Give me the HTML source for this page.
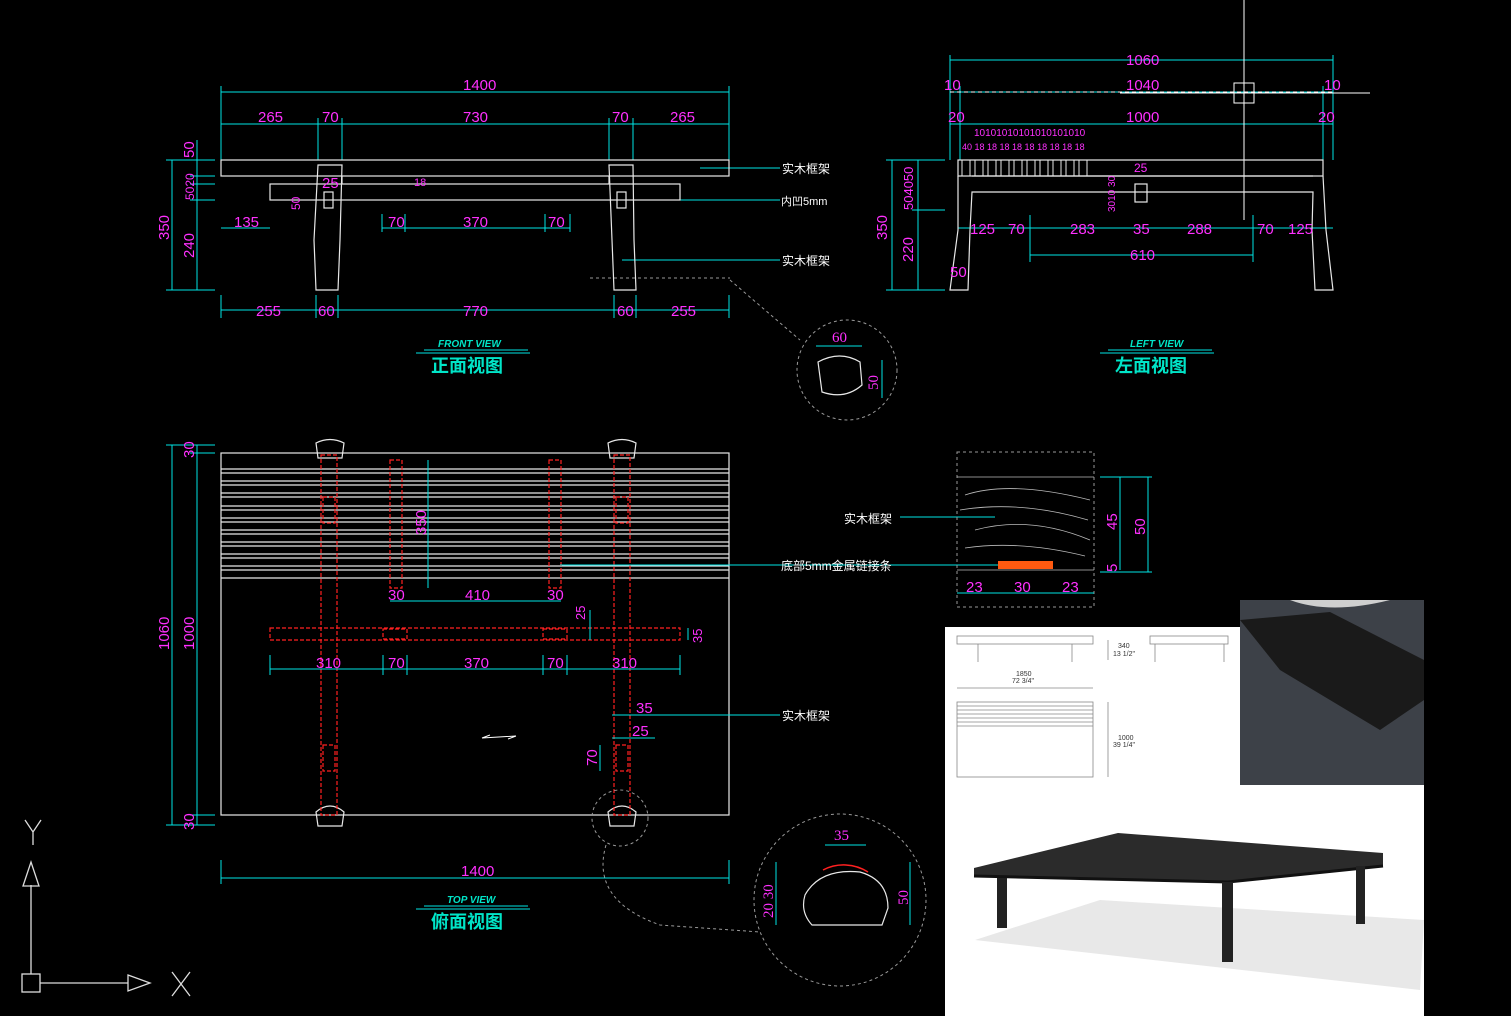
<!DOCTYPE html>
<html><head><meta charset="utf-8"><style>
html,body{margin:0;padding:0;background:#000;}
svg{display:block;}
text{font-family:"Liberation Sans","Noto Sans CJK SC",sans-serif;}
.c{stroke:#00e5e5;stroke-width:1;fill:none}
.w{stroke:#e8e8e8;stroke-width:1.2;fill:none}
.r{stroke:#ff2020;stroke-width:1.2;fill:none;stroke-dasharray:4 2}
.m{fill:#ff30ff;font-size:15px;font-family:"Liberation Serif",serif}
.l{fill:#fff;font-size:12px}
.t{fill:#00e5c8;font-size:18px;font-weight:bold}
.ts{fill:#00e5c8;font-size:10px;font-style:italic;font-weight:bold}
</style></head><body>
<svg width="1511" height="1016" viewBox="0 0 1511 1016" xmlns="http://www.w3.org/2000/svg">
<rect width="1511" height="1016" fill="#000"/>
<!-- ===== FRONT VIEW ===== -->
<g class="c">
<line x1="221" y1="92" x2="729" y2="92"/><line x1="221" y1="124" x2="729" y2="124"/>
<line x1="221" y1="86" x2="221" y2="160"/><line x1="729" y1="86" x2="729" y2="160"/>
<line x1="318" y1="118" x2="318" y2="160"/><line x1="342" y1="118" x2="342" y2="160"/>
<line x1="609" y1="118" x2="609" y2="160"/><line x1="633" y1="118" x2="633" y2="160"/>
<line x1="221" y1="310" x2="729" y2="310"/>
<line x1="221" y1="295" x2="221" y2="318"/><line x1="729" y1="295" x2="729" y2="318"/>
<line x1="316" y1="295" x2="316" y2="318"/><line x1="338" y1="295" x2="338" y2="318"/>
<line x1="614" y1="295" x2="614" y2="318"/><line x1="636" y1="295" x2="636" y2="318"/>
<line x1="221" y1="228" x2="270" y2="228"/><line x1="382" y1="228" x2="570" y2="228"/>
<line x1="382" y1="214" x2="382" y2="232"/><line x1="405" y1="214" x2="405" y2="232"/><line x1="545" y1="214" x2="545" y2="232"/><line x1="570" y1="214" x2="570" y2="232"/>
<line x1="172" y1="160" x2="172" y2="290"/><line x1="197" y1="140" x2="197" y2="290"/>
<line x1="166" y1="160" x2="215" y2="160"/><line x1="166" y1="290" x2="215" y2="290"/>
<line x1="190" y1="176" x2="215" y2="176"/><line x1="190" y1="184" x2="215" y2="184"/><line x1="190" y1="200" x2="215" y2="200"/>
<line x1="700" y1="168" x2="780" y2="168"/><line x1="622" y1="200" x2="780" y2="200"/><line x1="622" y1="260" x2="780" y2="260"/>
</g>
<g class="w">
<rect x="221" y="160" width="508" height="16"/>
<rect x="270" y="184" width="410" height="16"/>
<path d="M318 165 L342 165 L340 240 L338 290 L316 290 L314 240 Z"/>
<path d="M609 165 L633 165 L634 240 L636 290 L614 290 L612 240 Z"/>
<rect x="324" y="192" width="9" height="16"/><rect x="617" y="192" width="9" height="16"/>
<line x1="342" y1="176" x2="342" y2="184"/><line x1="609" y1="176" x2="609" y2="184"/>
</g>
<g class="m">
<text x="463" y="90">1400</text><text x="258" y="122">265</text><text x="322" y="122">70</text><text x="463" y="122">730</text><text x="612" y="122">70</text><text x="670" y="122">265</text>
<text x="234" y="227">135</text><text x="388" y="227">70</text><text x="463" y="227">370</text><text x="548" y="227">70</text>
<text x="256" y="316">255</text><text x="318" y="316">60</text><text x="463" y="316">770</text><text x="617" y="316">60</text><text x="671" y="316">255</text>
<text x="322" y="188">25</text><text x="414" y="186" font-size="11">18</text>
<text transform="translate(169,240) rotate(-90)">350</text><text transform="translate(194,258) rotate(-90)">240</text>
<text transform="translate(194,158) rotate(-90)">50</text><text transform="translate(194,200) rotate(-90)" font-size="12">5020</text>
<text transform="translate(300,210) rotate(-90)" font-size="12">50</text>
</g>
<g class="l"><text x="782" y="173">实木框架</text><text x="781" y="205" font-size="11">内凹5mm</text><text x="782" y="265">实木框架</text></g>
<text x="438" y="347" class="ts">FRONT VIEW</text>
<line x1="424" y1="350" x2="528" y2="350" class="c"/><line x1="416" y1="353" x2="530" y2="353" class="c"/>
<text x="431" y="372" class="t">正面视图</text>
<!-- circle detail -->
<circle cx="847" cy="370" r="50" fill="none" stroke="#999" stroke-dasharray="3 3"/>
<path d="M730 280 L800 340" stroke="#999" stroke-dasharray="3 3"/>
<line x1="590" y1="278" x2="730" y2="278" stroke="#999" stroke-dasharray="3 3"/>
<path d="M818 362 Q840 350 860 362 L862 385 Q845 400 822 392 Z" class="w"/>
<line x1="816" y1="346" x2="862" y2="346" class="c"/><line x1="882" y1="360" x2="882" y2="398" class="c"/>
<text x="832" y="342" class="m">60</text><text transform="translate(878,390) rotate(-90)" class="m">50</text>
<!-- ===== LEFT VIEW ===== -->
<g class="c">
<line x1="950" y1="60" x2="1333" y2="60"/><line x1="950" y1="92" x2="1333" y2="92"/><line x1="950" y1="124" x2="1333" y2="124"/>
<line x1="950" y1="55" x2="950" y2="160"/><line x1="1333" y1="55" x2="1333" y2="160"/>
<line x1="960" y1="86" x2="960" y2="160"/><line x1="1323" y1="86" x2="1323" y2="160"/>
<line x1="958" y1="228" x2="1333" y2="228"/><line x1="1030" y1="255" x2="1253" y2="255"/>
<line x1="1030" y1="215" x2="1030" y2="262"/><line x1="1253" y1="215" x2="1253" y2="262"/>
<line x1="892" y1="160" x2="892" y2="290"/><line x1="918" y1="160" x2="918" y2="290"/>
<line x1="886" y1="160" x2="945" y2="160"/><line x1="886" y1="290" x2="945" y2="290"/>
<line x1="912" y1="210" x2="945" y2="210"/>
</g>
<line x1="950" y1="92" x2="1333" y2="92" stroke="#fff" stroke-dasharray="4 3"/>
<line x1="1244" y1="0" x2="1244" y2="220" stroke="#fff"/><line x1="1120" y1="93" x2="1370" y2="93" stroke="#fff"/>
<rect x="1234" y="83" width="20" height="20" fill="none" stroke="#fff"/>
<g class="w">
<rect x="958" y="160" width="365" height="16"/>
<path d="M958 176 L958 230 L950 290 L968 290 L970 230 L972 192 L1313 192 L1312 230 L1315 290 L1333 290 L1326 230 L1323 176"/>
<line x1="972" y1="176" x2="1313" y2="176"/>
<rect x="1135" y="184" width="12" height="18"/>
</g>
<g stroke="#e8e8e8" fill="none">
<rect x="962" y="160" width="8" height="16"/><rect x="975" y="160" width="8" height="16"/><rect x="988" y="160" width="8" height="16"/><rect x="1001" y="160" width="8" height="16"/><rect x="1014" y="160" width="8" height="16"/><rect x="1027" y="160" width="8" height="16"/><rect x="1040" y="160" width="8" height="16"/><rect x="1053" y="160" width="8" height="16"/><rect x="1066" y="160" width="8" height="16"/><rect x="1079" y="160" width="8" height="16"/>
</g>
<g class="m">
<text x="1126" y="65">1060</text><text x="1126" y="90">1040</text><text x="1126" y="122">1000</text>
<text x="944" y="90">10</text><text x="1324" y="90">10</text><text x="948" y="122">20</text><text x="1318" y="122">20</text>
<text x="974" y="136" font-size="10">10101010101010101010</text><text x="962" y="150" font-size="9">40 18 18 18 18 18 18 18 18 18</text>
<text x="970" y="234">125</text><text x="1008" y="234">70</text><text x="1070" y="234">283</text><text x="1133" y="234">35</text><text x="1187" y="234">288</text><text x="1257" y="234">70</text><text x="1288" y="234">125</text>
<text x="1130" y="260">610</text><text x="1134" y="172" font-size="12">25</text><text x="950" y="277">50</text>
<text transform="translate(887,240) rotate(-90)">350</text><text transform="translate(913,262) rotate(-90)">220</text>
<text transform="translate(913,210) rotate(-90)" font-size="13">504050</text>
<text transform="translate(1115,212) rotate(-90)" font-size="10">3010 30</text>
</g>
<text x="1130" y="347" class="ts">LEFT VIEW</text>
<line x1="1108" y1="350" x2="1212" y2="350" class="c"/><line x1="1100" y1="353" x2="1214" y2="353" class="c"/>
<text x="1115" y="372" class="t">左面视图</text>
<!-- ===== TOP VIEW ===== -->
<g class="w">
<rect x="221" y="453" width="508" height="362"/>
<line x1="221" y1="469" x2="729" y2="469"/><line x1="221" y1="473" x2="729" y2="473"/>
<line x1="221" y1="481" x2="729" y2="481"/><line x1="221" y1="485" x2="729" y2="485"/>
<line x1="221" y1="493" x2="729" y2="493"/><line x1="221" y1="497" x2="729" y2="497"/>
<line x1="221" y1="506" x2="729" y2="506"/><line x1="221" y1="510" x2="729" y2="510"/>
<line x1="221" y1="518" x2="729" y2="518"/><line x1="221" y1="522" x2="729" y2="522"/>
<line x1="221" y1="530" x2="729" y2="530"/><line x1="221" y1="534" x2="729" y2="534"/>
<line x1="221" y1="542" x2="729" y2="542"/><line x1="221" y1="546" x2="729" y2="546"/>
<line x1="221" y1="554" x2="729" y2="554"/><line x1="221" y1="558" x2="729" y2="558"/>
<line x1="221" y1="566" x2="729" y2="566"/><line x1="221" y1="570" x2="729" y2="570"/>
<line x1="221" y1="578" x2="729" y2="578"/>
<path d="M316 443 Q330 436 344 443 L342 458 L318 458 Z"/><path d="M608 443 Q622 436 636 443 L634 458 L610 458 Z"/>
<path d="M316 812 Q330 800 344 812 L342 826 L318 826 Z"/><path d="M608 812 Q622 800 636 812 L634 826 L610 826 Z"/>
</g>
<g class="r">
<rect x="321" y="455" width="16" height="360"/><rect x="614" y="455" width="16" height="360"/>
<rect x="270" y="628" width="410" height="12"/>
<rect x="390" y="460" width="12" height="128"/><rect x="549" y="460" width="12" height="128"/>
<rect x="383" y="629" width="24" height="10"/><rect x="543" y="629" width="24" height="10"/>
<rect x="323" y="497" width="12" height="26"/><rect x="616" y="497" width="12" height="26"/>
<rect x="323" y="745" width="12" height="26"/><rect x="616" y="745" width="12" height="26"/>
</g>
<g class="c">
<line x1="172" y1="445" x2="172" y2="825"/><line x1="197" y1="445" x2="197" y2="825"/>
<line x1="166" y1="445" x2="215" y2="445"/><line x1="166" y1="825" x2="215" y2="825"/>
<line x1="190" y1="453" x2="215" y2="453"/><line x1="190" y1="815" x2="215" y2="815"/>
<line x1="390" y1="601" x2="561" y2="601"/><line x1="428" y1="460" x2="428" y2="588"/>
<line x1="270" y1="669" x2="680" y2="669"/>
<line x1="270" y1="655" x2="270" y2="675"/><line x1="383" y1="655" x2="383" y2="675"/><line x1="407" y1="655" x2="407" y2="675"/><line x1="543" y1="655" x2="543" y2="675"/><line x1="567" y1="655" x2="567" y2="675"/><line x1="680" y1="655" x2="680" y2="675"/>
<line x1="590" y1="610" x2="590" y2="640"/><line x1="688" y1="628" x2="688" y2="640"/>
<line x1="612" y1="715" x2="780" y2="715"/><line x1="612" y1="738" x2="655" y2="738"/><line x1="600" y1="745" x2="600" y2="771"/>
<line x1="221" y1="878" x2="729" y2="878"/><line x1="221" y1="860" x2="221" y2="884"/><line x1="729" y1="860" x2="729" y2="884"/>
<line x1="900" y1="517" x2="995" y2="517"/><line x1="560" y1="565" x2="1000" y2="565"/>
</g>
<path d="M482 738 L516 736 M482 738 L490 735 M516 736 L508 739" stroke="#fff" fill="none"/>
<g class="m">
<text transform="translate(194,458) rotate(-90)">30</text><text transform="translate(194,830) rotate(-90)">30</text>
<text transform="translate(169,650) rotate(-90)">1060</text><text transform="translate(194,650) rotate(-90)">1000</text>
<text transform="translate(426,535) rotate(-90)">350</text>
<text x="388" y="600">30</text><text x="465" y="600">410</text><text x="547" y="600">30</text>
<text x="316" y="668">310</text><text x="388" y="668">70</text><text x="464" y="668">370</text><text x="547" y="668">70</text><text x="612" y="668">310</text>
<text transform="translate(585,620) rotate(-90)" font-size="13">25</text><text transform="translate(702,643) rotate(-90)" font-size="13">35</text>
<text x="636" y="713">35</text><text x="632" y="736">25</text><text transform="translate(597,766) rotate(-90)">70</text>
<text x="461" y="876">1400</text>
</g>
<text x="782" y="720" class="l">实木框架</text>
<text x="447" y="903" class="ts">TOP VIEW</text>
<line x1="424" y1="906" x2="528" y2="906" class="c"/><line x1="416" y1="909" x2="530" y2="909" class="c"/>
<text x="431" y="928" class="t">俯面视图</text>
<!-- bottom circle detail -->
<circle cx="620" cy="818" r="28" fill="none" stroke="#999" stroke-dasharray="3 3"/>
<circle cx="840" cy="900" r="86" fill="none" stroke="#999" stroke-dasharray="3 3"/>
<path d="M606 845 Q590 900 660 925 L760 932" fill="none" stroke="#999" stroke-dasharray="3 3"/>
<path d="M823 870 A45 45 0 0 1 868 872" stroke="#ff2020" fill="none" stroke-width="1.5"/>
<path d="M805 895 Q820 868 860 872 Q888 880 888 908 L882 925 L812 925 Q800 912 805 895 Z" class="w"/>
<g class="c"><line x1="825" y1="845" x2="866" y2="845"/><line x1="776" y1="862" x2="776" y2="925"/><line x1="910" y1="862" x2="910" y2="925"/></g>
<text x="834" y="840" class="m" font-size="18">35</text>
<text transform="translate(773,918) rotate(-90)" class="m" font-size="18">20 30</text>
<text transform="translate(908,905) rotate(-90)" class="m" font-size="18">50</text>
<!-- section detail -->
<rect x="957" y="452" width="137" height="155" fill="none" stroke="#999" stroke-dasharray="3 3"/>
<g stroke="#bbb" fill="none" stroke-width="0.8">
<line x1="957" y1="477" x2="1094" y2="477"/><line x1="957" y1="570" x2="1094" y2="570"/>
<path d="M965 495 Q1010 480 1090 500"/><path d="M960 510 Q1020 500 1088 520"/><path d="M975 530 Q1030 515 1090 540"/><path d="M965 548 Q1020 540 1085 556"/>
</g>
<rect x="998" y="561" width="55" height="8" fill="#ff5a10"/>
<g class="c"><line x1="957" y1="593" x2="1094" y2="593"/><line x1="1120" y1="477" x2="1120" y2="570"/><line x1="1148" y1="477" x2="1148" y2="572"/><line x1="1100" y1="477" x2="1152" y2="477"/><line x1="1100" y1="572" x2="1152" y2="572"/></g>
<g class="m" font-size="20"><text x="966" y="592">23</text><text x="1014" y="592">30</text><text x="1062" y="592">23</text>
<text transform="translate(1117,530) rotate(-90)">45</text><text transform="translate(1145,535) rotate(-90)">50</text><text transform="translate(1117,572) rotate(-90)">5</text></g>
<text x="844" y="523" class="l">实木框架</text><text x="781" y="570" class="l">底部5mm金属链接条</text>
<!-- photos -->
<rect x="945" y="627" width="295" height="158" fill="#fff"/>
<g stroke="#888" fill="none" stroke-width="0.8">
<rect x="957" y="636" width="136" height="8"/><line x1="978" y1="644" x2="978" y2="662"/><line x1="1072" y1="644" x2="1072" y2="662"/>
<rect x="1150" y="636" width="78" height="8"/><line x1="1155" y1="644" x2="1155" y2="662"/><line x1="1224" y1="644" x2="1224" y2="662"/>
<rect x="957" y="702" width="136" height="75"/>
<line x1="957" y1="706" x2="1093" y2="706"/><line x1="957" y1="710" x2="1093" y2="710"/><line x1="957" y1="714" x2="1093" y2="714"/><line x1="957" y1="718" x2="1093" y2="718"/><line x1="957" y1="722" x2="1093" y2="722"/><line x1="957" y1="726" x2="1093" y2="726"/>
<line x1="957" y1="688" x2="1093" y2="688"/><line x1="1108" y1="640" x2="1108" y2="660"/><line x1="1108" y1="702" x2="1108" y2="777"/>
</g>
<g fill="#333" font-size="7"><text x="1016" y="676">1850</text><text x="1012" y="683">72 3/4"</text><text x="1118" y="648">340</text><text x="1113" y="656">13 1/2"</text><text x="1118" y="740">1000</text><text x="1113" y="747">39 1/4"</text></g>
<rect x="1240" y="600" width="184" height="185" fill="#3d4148"/>
<path d="M1240 620 L1330 612 L1424 660 L1424 700 L1380 730 L1280 670 Z" fill="#1a1a1a"/>
<path d="M1290 600 Q1330 615 1390 600 Z" fill="#cfcfcf"/>
<rect x="945" y="785" width="479" height="231" fill="#fff"/>
<path d="M975 940 L1420 990 L1424 920 L1100 900 Z" fill="#e8e8e8"/>
<path d="M974 868 L1118 833 L1383 853 L1383 866 L1228 882 L974 876 Z" fill="#2b2b2b"/>
<path d="M974 876 L1228 882 L1383 866" stroke="#111" fill="none" stroke-width="3"/>
<rect x="997" y="878" width="10" height="50" fill="#222"/><rect x="1222" y="882" width="11" height="80" fill="#222"/><rect x="1356" y="866" width="9" height="58" fill="#222"/>
<!-- UCS -->
<g stroke="#ddd" fill="none" stroke-width="1.3">
<rect x="22" y="974" width="18" height="18"/><line x1="31" y1="974" x2="31" y2="885"/><path d="M23 886 L31 862 L39 886 Z"/>
<line x1="40" y1="983" x2="128" y2="983"/><path d="M128 975 L150 983 L128 991 Z"/>
<path d="M172 972 L190 996 M190 972 L172 996"/><path d="M25 820 L33 832 L41 820 M33 832 L33 845"/>
</g>
</svg>
</body></html>
